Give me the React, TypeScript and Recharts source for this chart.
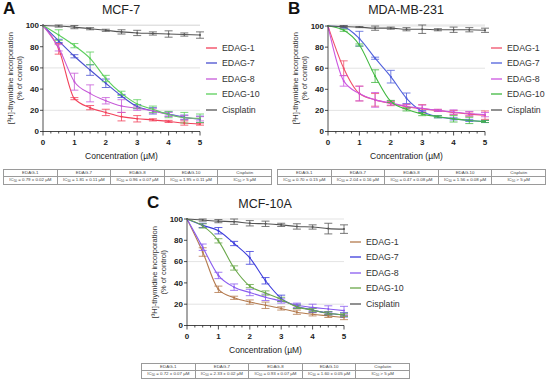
import React from "react";
import { LineChart, Line, XAxis, YAxis, CartesianGrid, ErrorBar, Legend } from "recharts";

// concentrations (µM) where each point was measured
const CONC = [0, 0.5, 1, 1.5, 2, 2.5, 3, 3.5, 4, 4.5, 5];
const X_TICKS = [0, 0.25, 0.5, 0.75, 1, 1.25, 1.5, 1.75, 2, 2.25, 2.5, 2.75, 3, 3.25, 3.5, 3.75, 4, 4.25, 4.5, 4.75, 5];
const Y_TICKS = [0, 20, 40, 60, 80, 100];
const DRUGS = ["EDAG-1", "EDAG-7", "EDAG-8", "EDAG-10", "Cisplatin"];

// MCF-7
const mcf7Edag1 = [100, 78, 31, 22.5, 18, 14, 12, 11, 9.5, 8, 7];
const mcf7Edag1Sd = [0, 5, 1, 2, 3, 4, 3, 1, 1, 2, 1];
const mcf7Edag7 = [100, 85.5, 71, 58, 45.5, 33.5, 23.5, 19.5, 16.5, 13.5, 11.5];
const mcf7Edag7Sd = [0, 1.5, 1.5, 5, 4, 1.5, 2, 3, 2, 2, 3];
const mcf7Edag8 = [100, 79, 47, 36, 29, 24, 22, 19.5, 16, 13, 12];
const mcf7Edag8Sd = [0, 3, 8, 8, 3, 6, 2, 2, 2, 2, 2];
const mcf7Edag10 = [100, 91, 81, 69, 50, 36, 26, 21, 16, 13, 12.5];
const mcf7Edag10Sd = [0, 5, 2, 6, 3, 2, 4, 3, 3, 5, 4];
const mcf7Cis = [100, 99.5, 98.5, 97, 95.5, 94, 93, 92.5, 92, 91.5, 91];
const mcf7CisSd = [0, 1, 1.5, 1, 1, 2, 2.5, 1.5, 3, 1.5, 3];
const mcf7Ic50 = [0.79, 1.81, 0.96, 1.95];
const mcf7Ic50Sd = [0.02, 0.11, 0.07, 0.11];

// MDA-MB-231
const mdaEdag1 = [100, 60, 36, 30, 26.5, 23.5, 21.5, 20, 18, 16.5, 15.5];
const mdaEdag1Sd = [0, 7, 7, 6, 2, 2, 4, 1, 2, 2, 4];
const mdaEdag7 = [100, 99, 88, 69.5, 52, 31.5, 19, 14, 12, 10.5, 9.5];
const mdaEdag7Sd = [0, 1, 7, 1, 6, 5, 1, 1, 1, 1, 1];
const mdaEdag8 = [100, 48, 36, 30, 27, 24, 22, 20, 18.5, 17, 16];
const mdaEdag8Sd = [0, 5, 7, 7, 2, 2, 3, 1, 2, 2, 2];
const mdaEdag10 = [100, 96, 82, 52.5, 28.5, 21, 16.5, 14, 12, 10.5, 9.5];
const mdaEdag10Sd = [0, 1, 1, 6, 1, 1.5, 1.5, 1, 3, 3, 1];
const mdaCis = [100, 99.5, 99, 98, 98, 97, 97, 96.5, 96.5, 96.5, 96];
const mdaCisSd = [0, 1, 0.5, 2, 1, 1.5, 4, 1, 2.5, 2, 2];
const mdaIc50 = [0.7, 2.04, 0.47, 1.56];
const mdaIc50Sd = [0.15, 0.16, 0.08, 0.08];

// MCF-10A
const mcf10Edag1 = [100, 69, 34, 26, 22, 19, 16, 12.5, 10.5, 9, 7.5];
const mcf10Edag1Sd = [0, 4, 3, 1.5, 2, 3, 1.5, 2, 1.5, 1.5, 2];
const mcf10Edag7 = [100, 94, 89, 77, 63.5, 42, 25.5, 18, 14.5, 11.5, 10];
const mcf10Edag7Sd = [0, 2, 3, 2, 6, 3, 3, 2, 2, 1.5, 2];
const mcf10Edag8 = [100, 73.5, 47, 36, 31, 26.5, 23, 19, 17, 15.5, 14];
const mcf10Edag8Sd = [0, 3, 3, 3, 3, 3, 2, 2, 3, 3, 4];
const mcf10Edag10 = [100, 93.5, 79.5, 54, 37, 30.5, 24.5, 17.5, 14.5, 11.5, 10];
const mcf10Edag10Sd = [0, 2, 2, 2, 1.5, 2, 2, 1.5, 1.5, 1.5, 1.5];
const mcf10Cis = [100, 99, 98, 97.5, 96, 95.5, 94.5, 93, 92.5, 91, 90.5];
const mcf10CisSd = [0, 1, 1.5, 2.5, 2.5, 2.5, 1.5, 2.5, 2, 5, 4];
const mcf10Ic50 = [0.72, 2.33, 0.93, 1.6];
const mcf10Ic50Sd = [0.07, 0.02, 0.07, 0.05];

const FONT = '"Liberation Sans", Arial, sans-serif';
const INK = "#222";

const KEYS = ["e1", "e7", "e8", "e10", "cis"];

function buildRows(series: number[][], sds: number[][]) {
  return CONC.map((c, i) => {
    const row: Record<string, number> = { c };
    KEYS.forEach((k, j) => {
      row[k] = series[j][i];
      row[k + "Sd"] = sds[j][i];
    });
    return row;
  });
}

const XTick = (props: any) => {
  const { x, y, payload } = props;
  const v = payload.value;
  const major = Number.isInteger(v);
  return (
    <g>
      <line x1={x} x2={x} y1={y} y2={y + (major ? 4 : 2)} stroke={INK} strokeWidth={0.8} />
      {major && (
        <text x={x} y={y + 13} textAnchor="middle" fontSize={8} fontWeight={700} fill={INK} fontFamily={FONT}>
          {v}
        </text>
      )}
    </g>
  );
};

const makeLegend = (colors: string[]) => () => (
  <div style={{ fontFamily: FONT }}>
    {DRUGS.map((d, i) => (
      <div key={d} style={{ display: "flex", alignItems: "center", height: 15.5 }}>
        <svg width={11} height={4} style={{ marginRight: 5 }}>
          <line x1={0} x2={11} y1={2} y2={2} stroke={colors[i]} strokeWidth={1.3} />
        </svg>
        <span style={{ fontSize: 8.8, color: "#333" }}>{d}</span>
      </div>
    ))}
  </div>
);

type PanelProps = {
  left: number;
  top: number;
  letter: string;
  title: string;
  colors: string[];
  series: number[][];
  sds: number[][];
};

function Panel({ left, top, letter, title, colors, series, sds }: PanelProps) {
  const rows = buildRows(series, sds);
  return (
    <div style={{ position: "absolute", left, top, width: 275, height: 165, fontFamily: FONT }}>
      <div style={{ position: "absolute", left: 3, top: 0, fontSize: 17, fontWeight: 700, color: "#111", lineHeight: "18px" }}>{letter}</div>
      <div style={{ position: "absolute", left: 61, width: 120, top: 3, textAlign: "center", fontSize: 12.5, color: INK, lineHeight: "15px" }}>
        {title}
      </div>
      <LineChart width={275} height={165} data={rows} margin={{ top: 25, right: 75, left: 0, bottom: 0 }}>
        <CartesianGrid vertical={false} stroke="#dcdcdc" strokeWidth={0.8} />
        <XAxis
          type="number"
          dataKey="c"
          domain={[0, 5]}
          ticks={X_TICKS}
          interval={0}
          height={33.5}
          tickSize={0}
          tickMargin={0}
          tickLine={false}
          tick={<XTick />}
          axisLine={{ stroke: INK, strokeWidth: 0.8 }}
          label={{
            content: (p: any) => {
              const vb = p.viewBox;
              return (
                <text x={vb.x + vb.width / 2} y={vb.y + 27} textAnchor="middle" fontSize={8.5} fill={INK} fontFamily={FONT}>
                  Concentration (µM)
                </text>
              );
            },
          }}
        />
        <YAxis
          type="number"
          domain={[0, 100]}
          ticks={Y_TICKS}
          width={43}
          tickSize={3}
          tickMargin={1}
          tick={{ fontSize: 8, fontWeight: 700, fill: INK, fontFamily: FONT }}
          tickLine={{ stroke: INK, strokeWidth: 0.8 }}
          axisLine={{ stroke: INK, strokeWidth: 0.8 }}
          label={{
            content: (p: any) => {
              const vb = p.viewBox;
              const cy = vb.y + vb.height / 2;
              return (
                <g fontFamily={FONT} fontSize={7.5} fill="#333">
                  <text transform={`translate(10, ${cy}) rotate(-90)`} textAnchor="middle" dominantBaseline="central">
                    [³H]-thymidine incorporation
                  </text>
                  <text transform={`translate(19, ${cy}) rotate(-90)`} textAnchor="middle" dominantBaseline="central">
                    (% of control)
                  </text>
                </g>
              );
            },
          }}
        />
        <Legend
          layout="vertical"
          align="center"
          verticalAlign="middle"
          content={makeLegend(colors)}
          wrapperStyle={{ left: 206, top: 40, width: 69 }}
        />
        {KEYS.map((k, j) => (
          <Line
            key={k}
            type="monotone"
            dataKey={k}
            name={DRUGS[j]}
            stroke={colors[j]}
            strokeWidth={1.1}
            dot={{ r: 1, fill: colors[j], stroke: colors[j], strokeWidth: 0 }}
            activeDot={false}
            isAnimationActive={false}
          >
            <ErrorBar dataKey={k + "Sd"} width={4} stroke={colors[j]} strokeWidth={0.8} direction="y" />
          </Line>
        ))}
      </LineChart>
    </div>
  );
}

function IcTable({ left, top, ic, sd }: { left: number; top: number; ic: number[]; sd: number[] }) {
  const cell: React.CSSProperties = {
    border: "0.6px solid #9a9a9a",
    textAlign: "center",
    padding: 0,
    height: 6,
    lineHeight: "6px",
    color: "#444",
    whiteSpace: "nowrap",
  };
  return (
    <table
      style={{
        position: "absolute",
        left,
        top,
        width: 269,
        borderCollapse: "collapse",
        tableLayout: "fixed",
        fontSize: 4.4,
        fontFamily: FONT,
      }}
    >
      <tbody>
        <tr>
          {DRUGS.map((d) => (
            <td key={d} style={cell}>
              {d}
            </td>
          ))}
        </tr>
        <tr>
          {ic.map((v, i) => (
            <td key={i} style={cell}>
              IC<sub style={{ fontSize: 3, verticalAlign: "-0.5px" }}>50</sub> = {v.toFixed(2)} ± {sd[i].toFixed(2)} µM
            </td>
          ))}
          <td style={cell}>
            IC<sub style={{ fontSize: 3, verticalAlign: "-0.5px" }}>50</sub> &gt; 5 µM
          </td>
        </tr>
      </tbody>
    </table>
  );
}

export default function App() {
  return (
    <div style={{ position: "absolute", left: 0, top: 0, width: 550, height: 383, background: "#fff", overflow: "hidden" }}>
      <Panel
        left={0}
        top={0}
        letter="A"
        title="MCF-7"
        colors={["#f2405a", "#4a50d0", "#c65ad8", "#5ccf5c", "#555555"]}
        series={[mcf7Edag1, mcf7Edag7, mcf7Edag8, mcf7Edag10, mcf7Cis]}
        sds={[mcf7Edag1Sd, mcf7Edag7Sd, mcf7Edag8Sd, mcf7Edag10Sd, mcf7CisSd]}
      />
      <Panel
        left={285}
        top={0}
        letter="B"
        title="MDA-MB-231"
        colors={["#f0506a", "#5060dc", "#cc55e0", "#40b840", "#555555"]}
        series={[mdaEdag1, mdaEdag7, mdaEdag8, mdaEdag10, mdaCis]}
        sds={[mdaEdag1Sd, mdaEdag7Sd, mdaEdag8Sd, mdaEdag10Sd, mdaCisSd]}
      />
      <Panel
        left={144}
        top={194}
        letter="C"
        title="MCF-10A"
        colors={["#b47a4e", "#3c3cdc", "#8a5cf0", "#6aa84a", "#555555"]}
        series={[mcf10Edag1, mcf10Edag7, mcf10Edag8, mcf10Edag10, mcf10Cis]}
        sds={[mcf10Edag1Sd, mcf10Edag7Sd, mcf10Edag8Sd, mcf10Edag10Sd, mcf10CisSd]}
      />
      <IcTable left={3} top={169} ic={mcf7Ic50} sd={mcf7Ic50Sd} />
      <IcTable left={277} top={169} ic={mdaIc50} sd={mdaIc50Sd} />
      <IcTable left={141} top={363} ic={mcf10Ic50} sd={mcf10Ic50Sd} />
    </div>
  );
}
